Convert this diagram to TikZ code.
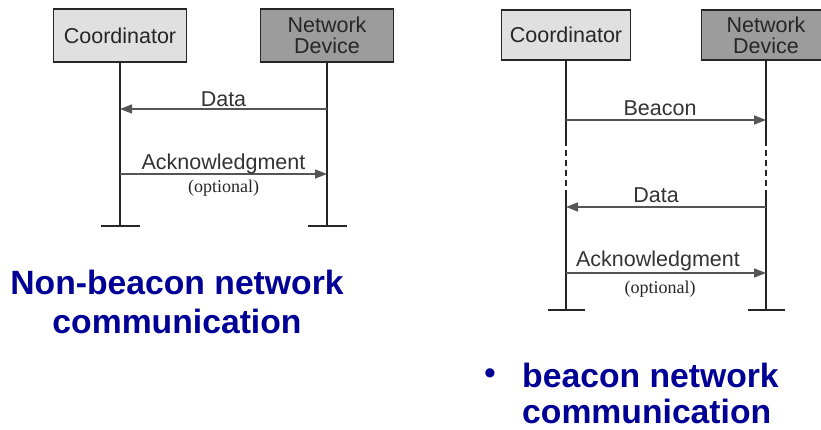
\documentclass[tikz,border=0pt]{standalone}
\usepackage{fontspec}
\setmainfont{Liberation Sans}
\newfontfamily\optfont{Liberation Serif}
\usetikzlibrary{arrows.meta}
\definecolor{boxlight}{RGB}{224,224,224}
\definecolor{boxdark}{RGB}{156,156,156}
\definecolor{msggray}{RGB}{85,85,85}
\definecolor{titleblue}{RGB}{0,0,150}

\begin{document}
\begin{tikzpicture}[x=1pt,y=-1pt,
	entity/.style={draw=black!85,line width=1.3pt,minimum height=53pt,inner sep=0pt,align=center,
		font=\fontsize{21.5}{21}\selectfont,text=black!85},
	lifeline/.style={black!85,line width=2pt},
	msg/.style={msggray,line width=1.4pt,-{Triangle[length=12pt,width=9pt]}},
	lbl/.style={above,inner sep=0pt,yshift=4pt,text depth=0pt,font=\fontsize{21.5}{21}\selectfont,text=black!80},
	opt/.style={below,inner sep=0pt,yshift=-5pt,font=\optfont\fontsize{18}{18}\selectfont,text=black!85},
	title/.style={text=titleblue,inner sep=0pt,font=\bfseries\fontsize{33.7}{39}\selectfont}]
	\clip (0,0) rectangle (821,430);
	
	%NON-BEACON: ENTITIES
	\node[entity,fill=boxlight,minimum width=133pt] (coordA) at (120,35.5) {Coordinator};
	\node[entity,fill=boxdark,minimum width=133pt] (devA) at (327,35.5) {Network\\Device};
	\coordinate (dataA) at (0,109);
	\coordinate (ackA) at (0,174);
	\coordinate (endA) at (0,226);
	
	%NON-BEACON: LIFELINES
	\draw[lifeline] (coordA.south) -- (coordA.south |- endA) ++(-19.5,0) -- ++(39,0);
	\draw[lifeline] (devA.south) -- (devA.south |- endA) ++(-19.5,0) -- ++(39,0);
	
	%NON-BEACON: MESSAGES
	\draw[msg] (devA.south |- dataA) -- node[lbl,yshift=-2pt] {Data} (coordA.south |- dataA);
	\draw[msg] (coordA.south |- ackA) -- node[lbl] {Acknowledgment} node[opt] {(optional)} (devA.south |- ackA);
	
	%BEACON: ENTITIES
	\node[entity,fill=boxlight,minimum width=129pt,minimum height=50pt] (coordB) at (566,35) {Coordinator};
	\node[entity,fill=boxdark,minimum width=129pt,minimum height=50pt] (devB) at (766,35) {Network\\Device};
	\coordinate (beaconB) at (0,120);
	\coordinate (gapB) at (0,140);
	\coordinate (resumeB) at (0,190);
	\coordinate (dataB) at (0,207);
	\coordinate (ackB) at (0,273);
	\coordinate (endB) at (0,310);
	
	%BEACON: LIFELINES (dashed while idle)
	\foreach \who in {coordB,devB}{
		\draw[lifeline] (\who.south) -- (\who.south |- gapB);
		\draw[lifeline,dash pattern=on 6pt off 4pt] (\who.south |- gapB) -- (\who.south |- resumeB);
		\draw[lifeline] (\who.south |- resumeB) -- (\who.south |- endB) ++(-18.5,0) -- ++(37,0);
	}
	
	%BEACON: MESSAGES
	\draw[msg] (coordB.south |- beaconB) -- node[lbl,xshift=-6pt] {Beacon} (devB.south |- beaconB);
	\draw[msg] (devB.south |- dataB) -- node[lbl,xshift=-10pt] {Data} (coordB.south |- dataB);
	\draw[msg] (coordB.south |- ackB) -- node[lbl,xshift=-8pt,yshift=2pt] {Acknowledgment} node[opt,xshift=-6pt,yshift=-2pt] {(optional)} (devB.south |- ackB);
	
	%TITLES
	\node[title,align=center] (titleA) at (177,301.5) {Non-beacon network\\communication};
	\node[title,font=\fontsize{33.7}{36}\selectfont] (bulletB) at (490,377) {•};
	\node[title,align=left,anchor=north west,font=\bfseries\fontsize{33.7}{36}\selectfont] (titleB) at (522,363) {beacon network\\communication};
\end{tikzpicture}
\end{document}
